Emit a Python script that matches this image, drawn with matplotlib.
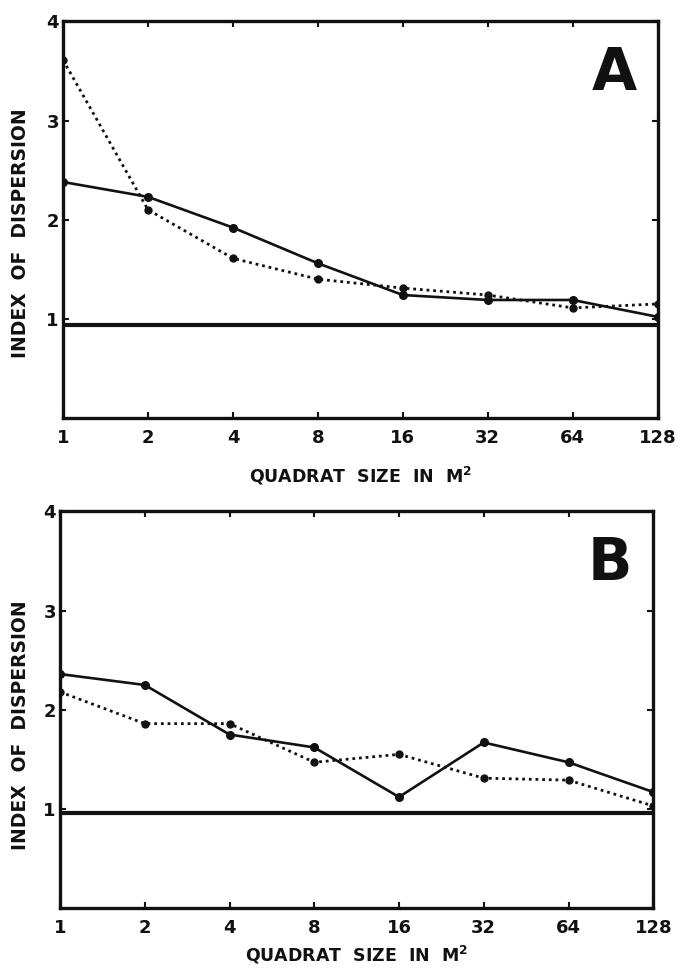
import matplotlib
matplotlib.use("Agg")
import matplotlib.pyplot as plt

quadrat_sizes = [1, 2, 4, 8, 16, 32, 64, 128]
tick_labels = ["1", "2", "4", "8", "16", "32", "64", "128"]

a_solid = [2.38, 2.23, 1.92, 1.56, 1.24, 1.19, 1.19, 1.02]
a_dotted = [3.61, 2.10, 1.61, 1.40, 1.31, 1.24, 1.11, 1.15]
a_ref = 0.94

b_solid = [2.36, 2.25, 1.75, 1.62, 1.12, 1.67, 1.47, 1.17]
b_dotted = [2.18, 1.86, 1.86, 1.47, 1.55, 1.31, 1.29, 1.03]
b_ref = 0.96

y_ticks = [1, 2, 3, 4]

plt.rcParams['font.family'] = ['DejaVu Sans']

fig = plt.figure(figsize=(6.78, 9.72), dpi=100)

panels = [
    ("A", [0.093, 0.570, 0.877, 0.408], a_solid, a_dotted, a_ref, 0.760, 13),
    ("B", [0.0885, 0.0658, 0.875, 0.408], b_solid, b_dotted, b_ref, 0.254, 5),
]

for letter, rect, solid, dotted, ref, ylab_y, lpad in panels:
    ax = fig.add_axes(rect)
    ax.set_xscale('log', base=2)
    ax.set_xlim(1, 128)
    ax.set_ylim(0, 4)
    ax.plot(quadrat_sizes, solid, color='#111111', lw=1.9, marker='o', ms=5.5,
            solid_joinstyle='round', zorder=3)
    ax.plot(quadrat_sizes, dotted, color='#111111', lw=2.0, ls=(0, (1, 1.4)),
            marker='o', ms=5, zorder=3)
    ax.axhline(ref, color='#111111', lw=3.0, zorder=2)
    ax.set_xticks(quadrat_sizes)
    ax.set_xticklabels(tick_labels)
    ax.xaxis.set_minor_locator(plt.NullLocator())
    ax.set_yticks(y_ticks)
    ax.set_yticklabels([str(t) for t in y_ticks])
    ax.tick_params(axis='both', direction='in', length=4, width=1.5,
                   top=True, right=True, labelsize=13, colors='#111111')
    ax.tick_params(axis='x', pad=8)
    ax.tick_params(axis='y', pad=3)
    for lab in ax.get_xticklabels() + ax.get_yticklabels():
        lab.set_fontweight('bold')
    for s in ax.spines.values():
        s.set_linewidth(2.4)
        s.set_color('#111111')
    ax.set_xlabel("QUADRAT  SIZE  IN  M$^{\\mathbf{2}}$", fontsize=12.5,
                  fontweight='bold', labelpad=lpad, color='#111111')
    ax.text(0.965, 0.94, letter, transform=ax.transAxes, ha='right', va='top',
            fontsize=42, fontweight='bold', color='#111111')
    fig.text(0.03, ylab_y, "INDEX  OF  DISPERSION", rotation=90,
             ha='center', va='center', fontsize=13.5, fontweight='bold',
             color='#111111')

fig.savefig("out.png", dpi=100, facecolor='white')
